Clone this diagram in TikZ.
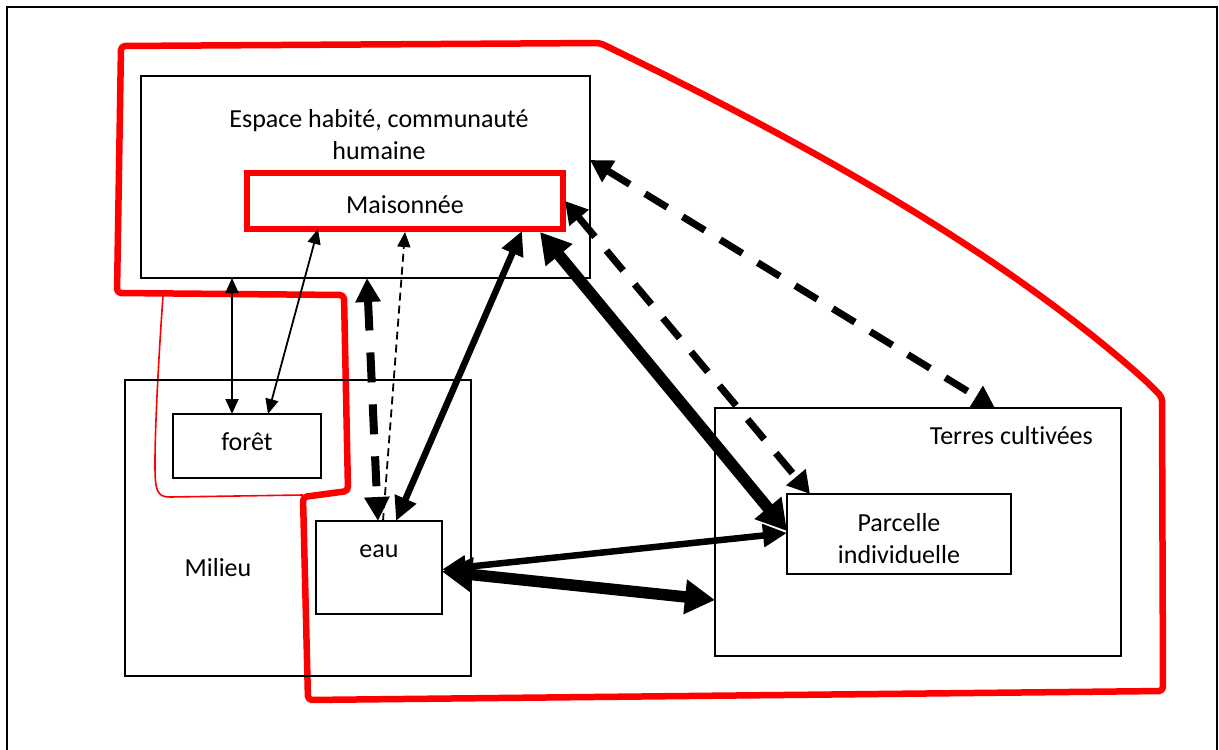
\documentclass[tikz,border=0pt]{standalone}
\usepackage{fontspec}
\setmainfont{Carlito}[Ligatures={NoCommon}]
\usetikzlibrary{arrows.meta,calc}
\definecolor{cred}{RGB}{255,0,0}
\begin{document}
\begin{tikzpicture}[x=1pt,y=-1pt,
  bx/.style={draw=black,line width=1.8pt,inner sep=0pt,outer sep=0pt,rectangle,fill=none},
  lbl/.style={inner sep=0pt,font=\fontsize{26}{32}\selectfont,align=center},
  contour/.style={draw=cred,line width=6.5pt,line join=round,rounded corners=4pt},
  contourthin/.style={draw=cred,line width=1.6pt},
  athin/.style={line width=1.8pt,arrows={Triangle[length=15pt,width=13pt]-Triangle[length=15pt,width=13pt]}},
  athindash/.style={line width=1.8pt,dash pattern=on 8pt off 5pt,arrows={-Triangle[length=15pt,width=13pt]}},
  amed/.style={line width=6.5pt,arrows={Triangle[length=24pt,width=22pt]-Triangle[length=24pt,width=22pt]}},
  amedash/.style={line width=7pt,dash pattern=on 26pt off 18pt,arrows={Triangle[length=22pt,width=24pt]-Triangle[length=22pt,width=24pt]}},
  avdash/.style={line width=8pt,dash pattern=on 30pt off 22pt,arrows={Triangle[length=24pt,width=24pt]-Triangle[length=24pt,width=24pt]}},
  athick/.style={line width=11.5pt,arrows={Triangle[length=30pt,width=33pt]-Triangle[length=30pt,width=33pt]}},
]
\useasboundingbox (0,0) rectangle (1219,750);
% outer frame
\draw[line width=2pt] (7,752) -- (7,7) -- (1217,7) -- (1217,752);

% red contour
\draw[contour] (117,293) -- (121,46) -- (600,43)
  .. controls (800,140) and (1000,250) .. (1147,382)
  -- (1162,397) -- (1163,691) -- (308,700) -- (303,497)
  -- (348,491) -- (344,295) -- cycle;
\draw[contourthin] (163,296) .. controls (157,380) and (153,470) .. (156,485)
  .. controls (158,497) and (165,497) .. (170,497) -- (303,495);

% boxes
\node[bx,minimum width=449pt,minimum height=202pt] (esp) at (365.5,177) {};
\node[bx,draw=cred,line width=5.5pt,minimum width=316pt,minimum height=56pt] (mais) at (405,201) {};
\node[bx,minimum width=346pt,minimum height=296pt] (mil) at (298,528) {};
\node[bx,minimum width=148pt,minimum height=64pt] (foret) at (247,446) {};
\node[bx,minimum width=126pt,minimum height=93pt] (eau) at (379,567.5) {};
\node[bx,minimum width=406pt,minimum height=248pt] (terres) at (918,532) {};
\node[bx,minimum width=224pt,minimum height=80pt] (parc) at (899,534) {};

% labels
\node[lbl,anchor=base] (espl) at (379,159) {Espace habité, communauté\\humaine};
\node[lbl,anchor=base] (maisl) at (405,213) {Maisonnée};
\node[lbl,anchor=base] (foretl) at (247,450) {forêt};
\node[lbl,anchor=base] (eaul) at (379,557) {eau};
\node[lbl,anchor=base] (mill) at (218,576) {Milieu};
\node[lbl,anchor=base east] (terresl) at (1093,444) {Terres cultivées};
\node[lbl,anchor=base] (parcl) at (899,563) {Parcelle\\individuelle};

% connectors
\draw[athin] ([xshift=91pt]esp.south west) -- ([xshift=59pt]foret.north west);
\draw[athin] ([xshift=71pt]mais.south west) -- ([xshift=95pt]foret.north west);
\draw[avdash] ([xshift=226pt]esp.south west) -- ([xshift=62pt]eau.north west);
\draw[athindash] ([xshift=67pt]eau.north west) -- ([yshift=-3pt]mais.south);
\draw[amed] ([xshift=80pt]eau.north west) -- ([xshift=275pt,yshift=-2pt]mais.south west);
\draw[athick] ([xshift=-23pt,yshift=-3pt]mais.south east) -- ([yshift=3pt]parc.west);
\draw[amedash] ([xshift=2pt]mais.east) -- ([xshift=23pt]parc.north west);
\draw[amedash] ([yshift=17pt]esp.east) -- ([xshift=280pt]terres.north west);
\draw[amed] ([yshift=-2pt]eau.east) -- ([yshift=1pt]parc.west);
\draw[athick] ([yshift=-4pt]eau.east) -- ([yshift=-68pt]terres.west);
\end{tikzpicture}
\end{document}
